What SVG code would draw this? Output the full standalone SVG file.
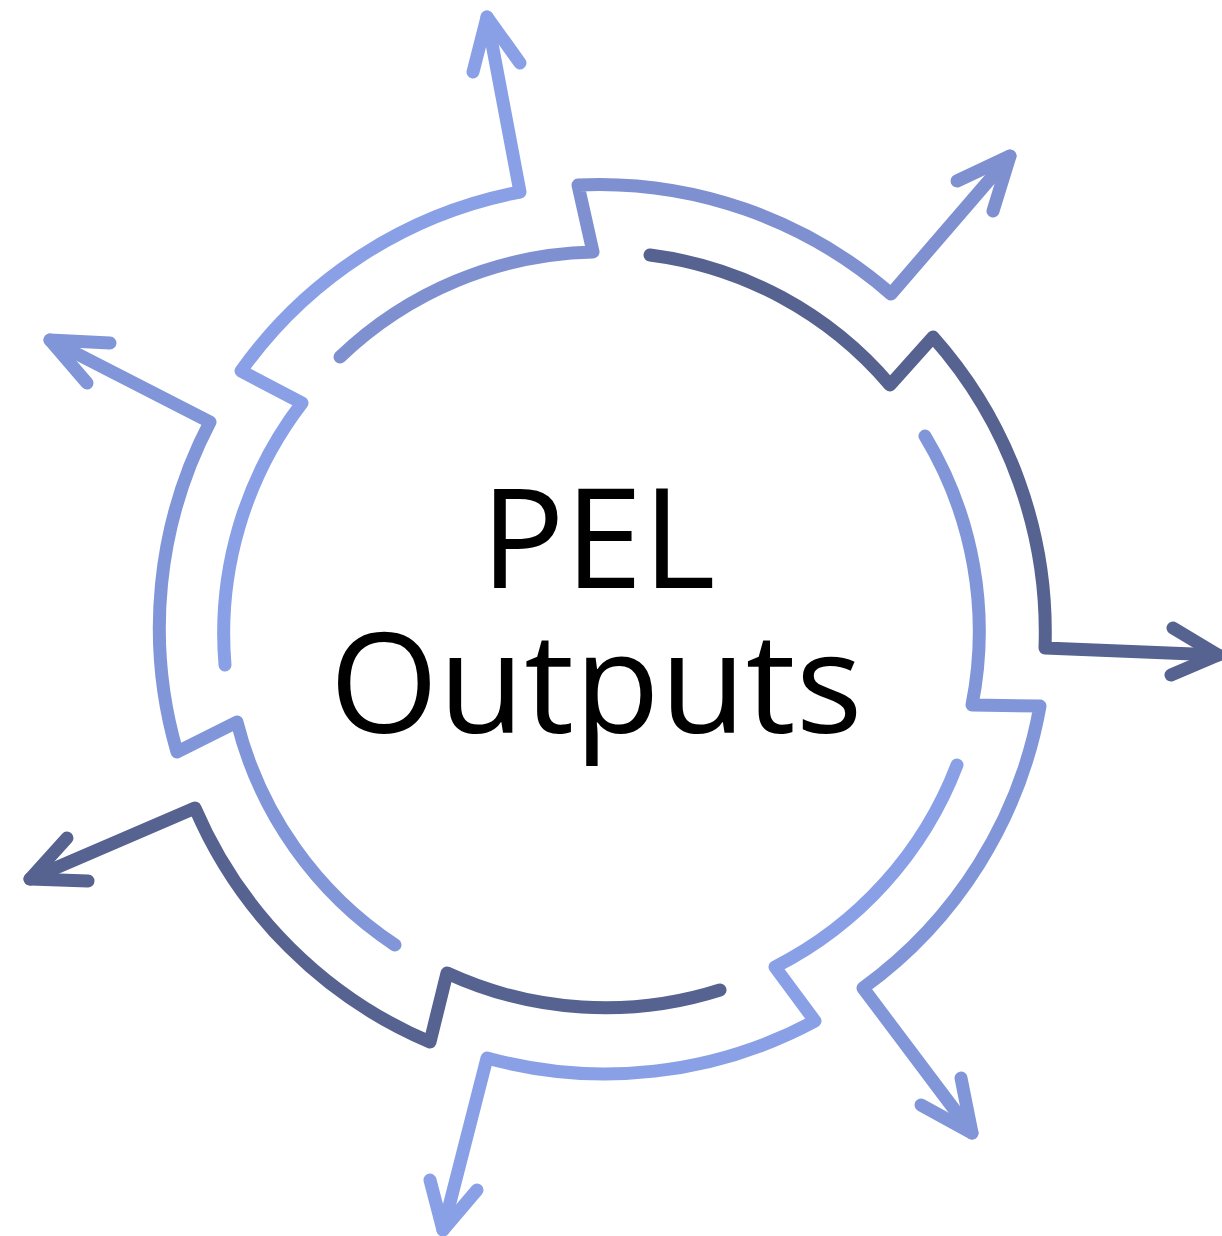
<svg xmlns="http://www.w3.org/2000/svg" width="1222" height="1236" viewBox="0 0 1222 1236">
<style>
.seg{fill:none;stroke-width:13;stroke-linecap:round;stroke-linejoin:round}
.l1{stroke:#89a0e6}.l2{stroke:#8196d8}.l3{stroke:#7f90d1}.d{stroke:#56628f}
.t{font-family:"Open Sans","Noto Sans","Liberation Sans",sans-serif;font-size:140px;fill:#000;text-anchor:middle}
</style>
<rect width="1222" height="1236" fill="#fff"/>
<g id="connectors">
<g id="seg1" class="seg l1"><path d="M487,17 L520,192 A444,444 0 0 0 241,371 L302,403 A378,378 0 0 0 225,665"/><path d="M473,72 L487,17 L520,63"/></g>
<g id="seg2" class="seg l2"><path d="M50,340 L210,422 A444,444 0 0 0 177,752 L237,722 A378,378 0 0 0 395,945"/><path d="M110,343 L50,340 L87,383"/></g>
<g id="seg3" class="seg d"><path d="M30,879 L195,808 A444,444 0 0 0 430,1042 L447,973 A378,378 0 0 0 720,990"/><path d="M88,881 L30,879 L67,838"/></g>
<g id="seg4" class="seg l1"><path d="M443,1230 L487,1058 A444,444 0 0 0 815,1021 L775,967 A378,378 0 0 0 957,765"/><path d="M430,1180 L443,1230 L477,1190"/></g>
<g id="seg5" class="seg l2"><path d="M972,1133 L863,988 A444,444 0 0 0 1040,706 L972,705 A378,378 0 0 0 925,436"/><path d="M921,1105 L972,1133 L961,1078"/></g>
<g id="seg6" class="seg d"><path d="M1218,655 L1045,648 A444,444 0 0 0 933,337 L890,385 A378,378 0 0 0 650,255"/><path d="M1173,628 L1218,655 L1171,675"/></g>
<g id="seg7" class="seg l3"><path d="M1010,156 L891,294 A444,444 0 0 0 578,185 L593,252 A378,378 0 0 0 340,357"/><path d="M957,181 L1010,156 L993,211"/></g>
</g>
<g id="center">
<text class="t"><tspan x="598" y="588">PEL</tspan><tspan x="596" y="733">Outputs</tspan></text>
</g>
</svg>
